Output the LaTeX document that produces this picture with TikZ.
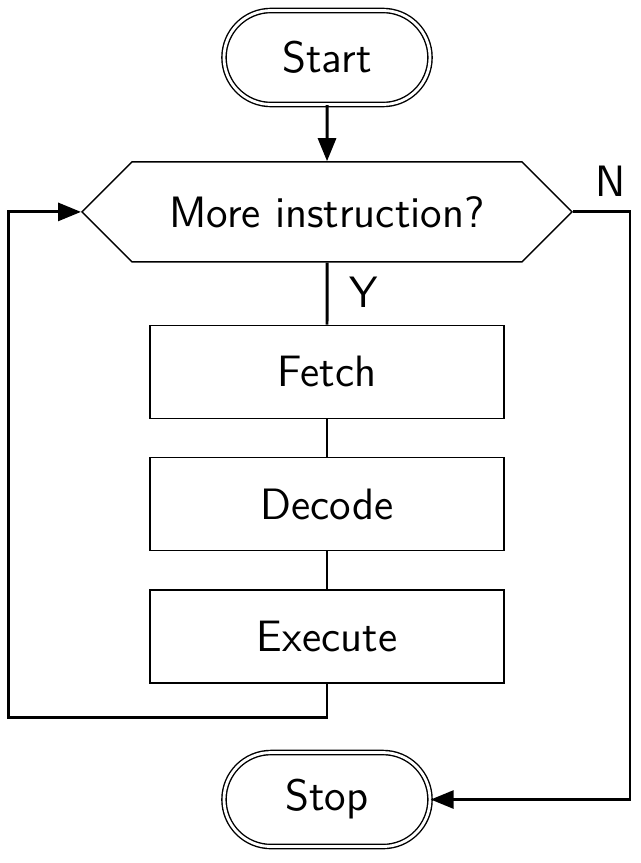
\documentclass[tikz,border=0pt]{standalone}
\usepackage{tikz}
\usetikzlibrary{arrows.meta,positioning,shapes.symbols}

\tikzset{
  terminal/.style={draw,rectangle,rounded corners=0.47cm,double,double distance=0.8pt,minimum width=2.06cm,minimum height=0.94cm},
  decision/.style={draw,signal,signal to=west and east,signal pointer angle=90,minimum width=4.9cm,minimum height=1cm,inner sep=0pt},
  process/.style={draw,rectangle,minimum width=3.54cm,minimum height=0.93cm},
  link/.style={line width=0.85pt},
  arrow/.style={link,-{Triangle[length=2.3mm,width=1.8mm]}}
}

\begin{document}
\begin{tikzpicture}[node distance=0.38cm, every node/.style={font=\sffamily\fontsize{12.5}{15}\selectfont}]
\useasboundingbox (0,0) rectangle (6.41,-8.63);

\node[terminal] (start) at (3.27,-0.575) {Start};
\node[decision,below=0.56cm of start] (test) {More instruction?};
\node[process,below=0.62cm of test] (fetch) {Fetch};
\node[process,below=of fetch] (decode) {Decode};
\node[process,below=of decode] (exec) {Execute};
\node[terminal,below=0.68cm of exec] (stop) {Stop};

\draw[arrow] (start) -- (test);
\draw[link] (test) -- (fetch);
\draw[link] (fetch) -- (decode);
\draw[link] (decode) -- (exec);

% back to the test
\draw[arrow] (exec.south) -- ++(0,-0.34) -| ([xshift=-0.73cm]test.west) -- (test.west);
% leave when nothing is left
\draw[arrow] (test.east) -- ++(0.57,0) |- (stop.east);

\node[above right=0.03cm and 0.1cm of test.east] (no) {N};
\node[below right=0.02cm and 0.1cm of test.south] (yes) {Y};
\end{tikzpicture}
\end{document}
